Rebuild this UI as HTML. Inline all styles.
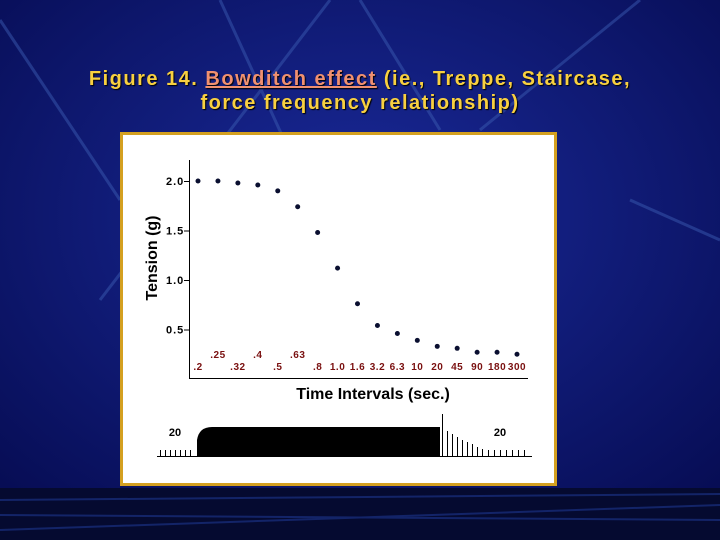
<!DOCTYPE html>
<html><head><meta charset="utf-8"><style>
body{margin:0;width:720px;height:540px;overflow:hidden;background:#0b1466;font-family:"Liberation Sans",sans-serif}
#bg{position:absolute;left:0;top:0}
.t{position:absolute;left:0;width:720px;text-align:center;color:#f8d040;font-weight:bold;font-size:20px;letter-spacing:1.5px;text-shadow:1px 1px 1px #000}
.lk{color:#f09070;text-decoration:underline}
</style></head><body>
<svg id="bg" width="720" height="540">
<defs><radialGradient id="g" cx="50%" cy="40%" r="70%"><stop offset="0" stop-color="#1a2a9a"/><stop offset="1" stop-color="#070d55"/></radialGradient></defs>
<rect width="720" height="540" fill="url(#g)"/>
<g stroke="#3a5ab0" stroke-width="3" opacity="0.5" fill="none">
<line x1="100" y1="300" x2="330" y2="0"/><line x1="220" y1="0" x2="330" y2="240"/><line x1="360" y1="0" x2="440" y2="130"/><line x1="480" y1="130" x2="640" y2="0"/><line x1="630" y1="200" x2="720" y2="240"/><line x1="0" y1="20" x2="120" y2="200"/>
</g>
<rect x="0" y="488" width="720" height="52" fill="#050a30"/>
<g stroke="#1a2f80" stroke-width="2" opacity="0.7"><line x1="0" y1="500" x2="720" y2="494"/><line x1="0" y1="515" x2="720" y2="520"/><line x1="0" y1="530" x2="720" y2="505"/></g>
</svg>
<div class="t" style="top:68px">Figure 14. <span class="lk">Bowditch effect</span> (ie., Treppe, Staircase,</div>
<div class="t" style="top:92px">force frequency relationship)</div>
<svg style="position:absolute;left:0;top:0" width="720" height="540" id="chart">
<rect x="121.5" y="133.5" width="434" height="351" fill="#fff" stroke="#d4a020" stroke-width="3"/>
<g id="plot"></g>
</svg>
<script>
const categories=[".2",".25",".32",".4",".5",".63",".8","1.0","1.6","3.2","6.3","10","20","45","90","180","300"];
const tension=[2.0,2.0,1.98,1.96,1.90,1.74,1.48,1.12,0.76,0.54,0.46,0.39,0.33,0.31,0.27,0.27,0.25];
const yTicks=[2.0,1.5,1.0,0.5];
const yTickLabels=["2.0","1.5","1.0","0.5"];
const ns="http://www.w3.org/2000/svg";
const g=document.getElementById('plot');
function xs(i){return 198+i*(517-198)/(categories.length-1);}
function ys(v){return 181+(2-v)*99;}
function mk(t,a,txt){const e=document.createElementNS(ns,t);for(const k in a)e.setAttribute(k,a[k]);if(txt!==undefined)e.textContent=txt;g.appendChild(e);return e;}
let e;
e=mk('line',{x1:189.5,y1:160,x2:189.5,y2:378.5,stroke:'#000','stroke-width':1});


e=mk('line',{x1:189,y1:378.5,x2:528,y2:378.5,stroke:'#000','stroke-width':1});


yTicks.forEach((v,i)=>{
 e=mk('line',{x1:184,x2:189,y1:ys(v)+.5,y2:ys(v)+.5,stroke:'#000'});
 
 
 e=mk('text',{x:166,y:ys(v)+4,'font-size':'11','font-weight':'bold','letter-spacing':'1','font-family':'Liberation Sans',fill:'#000'},yTickLabels[i]);
 
 
});
e=mk('text',{x:0,y:0,transform:'translate(157,258) rotate(-90)','text-anchor':'middle','font-size':'16','font-weight':'bold',fill:'#000'},'Tension (g)');


const upper={1:1,3:1,5:1};
categories.forEach((c,i)=>{
 e=mk('circle',{cx:xs(i),cy:ys(tension[i]),r:2.5,fill:'#0a0f30'});
 
 
 e=mk('text',{x:xs(i),y:upper[i]?358:370,'text-anchor':'middle','font-size':'10','font-weight':'bold','letter-spacing':'0.5',fill:'#7a1010'},c);
 
 
});
e=mk('text',{x:373,y:399,'text-anchor':'middle','font-size':'16','font-weight':'bold',fill:'#000'},'Time Intervals (sec.)');


e=mk('line',{x1:157,y1:456.5,x2:532,y2:456.5,stroke:'#000'});


for(let x=160;x<=191;x+=5){e=mk('line',{x1:x+.5,x2:x+.5,y1:450,y2:456,stroke:'#000'});}
e=mk('path',{d:'M197 456 L197 440 Q199 427 212 427 L440 427 L440 456 Z',fill:'#000'});


const hts=[42,25,22,19,16,14,12,9,7];
hts.forEach((h,i)=>{e=mk('line',{x1:442.5+i*5,x2:442.5+i*5,y1:456-h,y2:456,stroke:'#000'});});
for(let x=488;x<=528;x+=6){e=mk('line',{x1:x+.5,x2:x+.5,y1:450,y2:456,stroke:'#000'});}
e=mk('text',{x:175,y:436,'text-anchor':'middle','font-size':'11','font-weight':'bold',fill:'#000'},'20');


e=mk('text',{x:500,y:436,'text-anchor':'middle','font-size':'11','font-weight':'bold',fill:'#000'},'20');


</script>
</body></html>
